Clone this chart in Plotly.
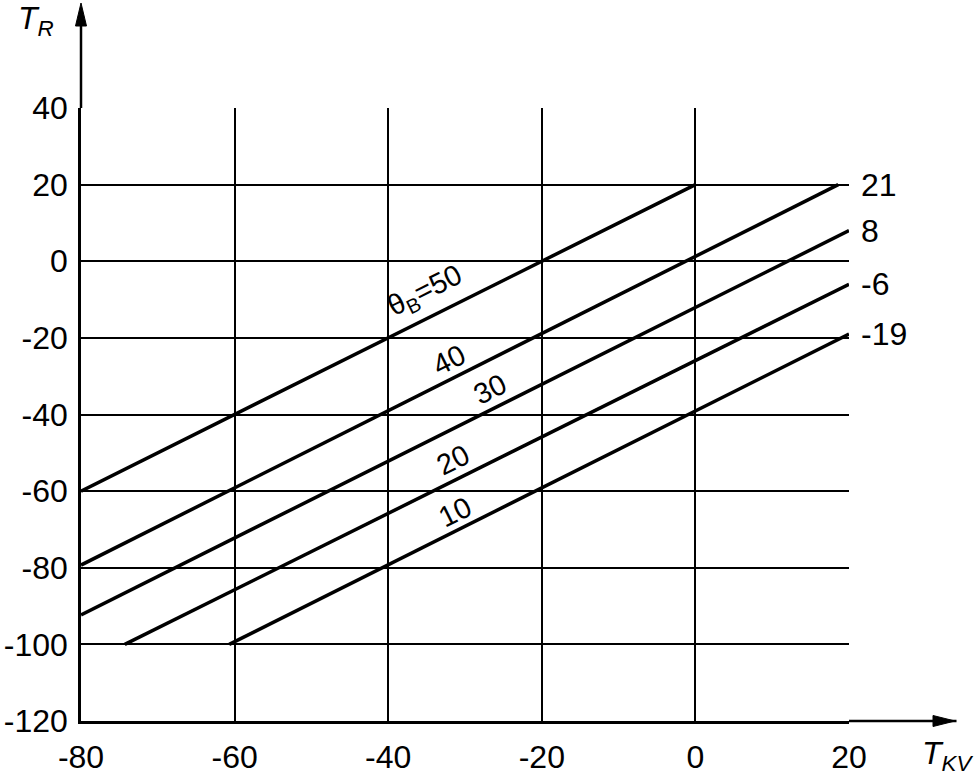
import plotly.graph_objects as go

# Data
e_b = [50, 40, 30, 20, 10]
x_start = [-80, -80, -80, -74.3, -60.7]
y_start = [-60, -79.3, -92.3, -100, -100]
x_end = [0, 18.6, 20, 20, 20]
y_end = [20, 20, 8, -6, -19]
end_labels = ["21", "8", "-6", "-19"]
end_label_y = [20, 8, -6, -19]
x_ticks = [-80, -60, -40, -20, 0, 20]
y_ticks = [-120, -100, -80, -60, -40, -20, 0, 20, 40]

FONT = "Liberation Sans, Arial, sans-serif"
FS = 32

fig = go.Figure()
for i in range(len(e_b)):
    fig.add_trace(go.Scatter(
        x=[x_start[i], x_end[i]], y=[y_start[i], y_end[i]],
        mode="lines", line=dict(color="black", width=3.5),
        showlegend=False, hoverinfo="skip"))

annotations = []
# end labels on right
for lab, yv in zip(end_labels, end_label_y):
    annotations.append(dict(x=1, xref="paper", y=yv, yref="y", text=lab,
                            xanchor="left", yanchor="middle", xshift=10,
                            showarrow=False, font=dict(size=FS, color="black", family=FONT)))

# line labels (rotated)
lab_pos = [(-35.2, -8.0), (-32.1, -25.8), (-26.7, -33.4), (-31.6, -51.9), (-31.3, -65.5)]
lab_txt = ["θ<sub>B</sub>=50", "40", "30", "20", "10"]
for (lx, ly), t in zip(lab_pos, lab_txt):
    annotations.append(dict(x=lx, y=ly, xref="x", yref="y", text=t, textangle=-26.5,
                            showarrow=False, xanchor="center", yanchor="middle",
                            font=dict(size=29, color="black", family=FONT)))

# axis titles
annotations.append(dict(x=-0.058, xref="paper", y=1.143, yref="paper",
                        text="<i>T</i><sub><i>R</i></sub>", showarrow=False,
                        xanchor="center", yanchor="middle",
                        font=dict(size=FS, color="black", family=FONT)))
annotations.append(dict(x=1.128, xref="paper", y=-0.057, yref="paper",
                        text="<i>T</i><sub><i>KV</i></sub>", showarrow=False,
                        xanchor="center", yanchor="middle",
                        font=dict(size=FS, color="black", family=FONT)))

W, H = 768.0, 613.0
shapes = [
    dict(type="line", xref="paper", yref="paper", x0=0, x1=0, y0=1, y1=1.14,
         line=dict(color="black", width=2.5)),
    dict(type="path", xref="paper", yref="paper",
         path=f"M {-5.5/W} {(721-26)/H} L {5.5/W} {(721-26)/H} L 0 {(721-3)/H} Z",
         fillcolor="black", line=dict(color="black", width=1)),
    dict(type="line", xref="paper", yref="paper", x0=1, x1=1.14, y0=0, y1=0,
         line=dict(color="black", width=2.5)),
    dict(type="path", xref="paper", yref="paper",
         path=f"M {(933-81)/W} {5.5/H} L {(933-81)/W} {-5.5/H} L {(955-81)/W} 0 Z",
         fillcolor="black", line=dict(color="black", width=1)),
]

fig.update_layout(
    width=980, height=777,
    margin=dict(l=81, r=131, t=108, b=56, autoexpand=False),
    plot_bgcolor="white", paper_bgcolor="white",
    font=dict(family=FONT, size=FS, color="black"),
    annotations=annotations, shapes=shapes,
    showlegend=False,
)
fig.update_xaxes(range=[-80, 20], tickvals=x_ticks, ticktext=[str(v) for v in x_ticks],
                 showgrid=True, gridcolor="black", gridwidth=2,
                 showline=True, linecolor="black", linewidth=2.5,
                 zeroline=False, ticks="", ticklabelstandoff=6, automargin=False,
                 tickfont=dict(size=FS, family=FONT, color="black"))
fig.update_yaxes(range=[-120, 40], tickvals=y_ticks, ticktext=[str(v) for v in y_ticks],
                 showgrid=True, gridcolor="black", gridwidth=2,
                 showline=True, linecolor="black", linewidth=2.5,
                 zeroline=False, ticks="", ticklabelstandoff=4, automargin=False,
                 tickfont=dict(size=FS, family=FONT, color="black"))

fig.write_html("out.html", config={"displayModeBar": False},
               post_script="document.body.style.margin='0';document.body.style.padding='0';")
